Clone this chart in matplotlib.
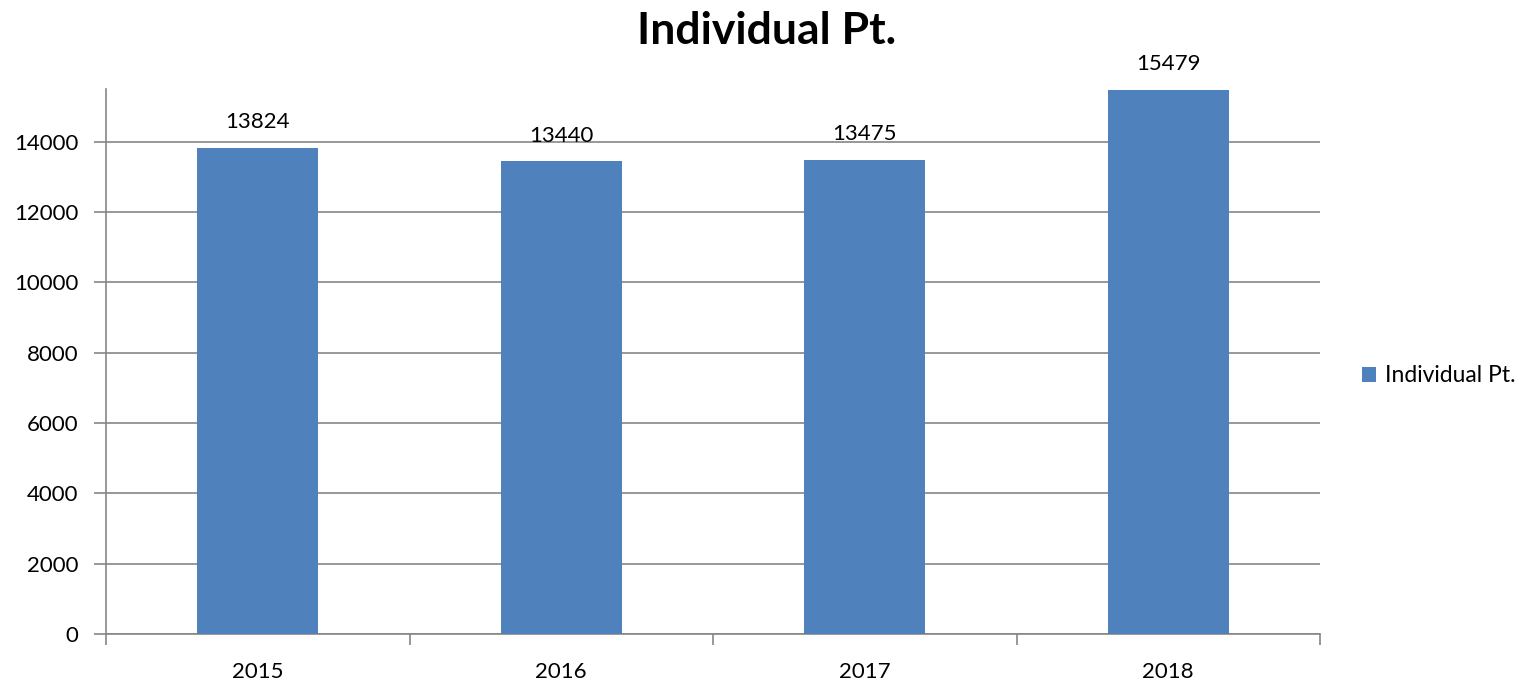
import matplotlib
matplotlib.use("Agg")
import matplotlib.pyplot as plt

plt.rcParams['font.family'] = ['Lato', 'DejaVu Sans']

years = ["2015", "2016", "2017", "2018"]
counts = [13824, 13440, 13475, 15479]
series_name = "Individual Pt."

bar_color = "#4F81BD"
grid_color = "#868686"

fig = plt.figure(figsize=(15.34, 6.82), dpi=100)
ax = fig.add_axes([106 / 1534, 48 / 682, (1320 - 106) / 1534, (634 - 89) / 682])

x = range(len(years))
bars = ax.bar(x, counts, width=0.4, color=bar_color, label=series_name, zorder=3)

for xi, v in zip(x, counts):
    ax.text(xi, v + 450, str(v), ha="center", va="bottom", fontsize=16, color="black")

ax.set_xlim(-0.5, len(years) - 0.5)
ax.set_ylim(0, 15500)
ax.set_yticks(range(0, 15000, 2000))
ax.tick_params(axis="y", labelsize=16, length=9, width=1.2, color=grid_color, pad=11)
ax.yaxis.grid(True, color=grid_color, linewidth=1.2, zorder=0)

ax.set_xticks(x)
ax.set_xticklabels(years)
ax.set_xticks([i - 0.5 for i in range(len(years) + 1)], minor=True)
ax.tick_params(axis="x", which="major", length=0, labelsize=16, pad=20)
ax.tick_params(axis="x", which="minor", length=8, width=1.2, color=grid_color)

for side in ["top", "right"]:
    ax.spines[side].set_visible(False)
for side in ["left", "bottom"]:
    ax.spines[side].set_color(grid_color)
    ax.spines[side].set_linewidth(1.2)

fig.text(0.5, 0.955, series_name, ha="center", va="center", fontsize=32, fontweight="bold")

fig.legend(handles=[bars], labels=[series_name], loc="center left",
           bbox_to_anchor=(1362 / 1534, 1 - 376 / 682), frameon=False,
           fontsize=16.5, handlelength=0.6, handleheight=0.6, handletextpad=0.4,
           borderpad=0, borderaxespad=0)

fig.savefig("out.png", dpi=100)
